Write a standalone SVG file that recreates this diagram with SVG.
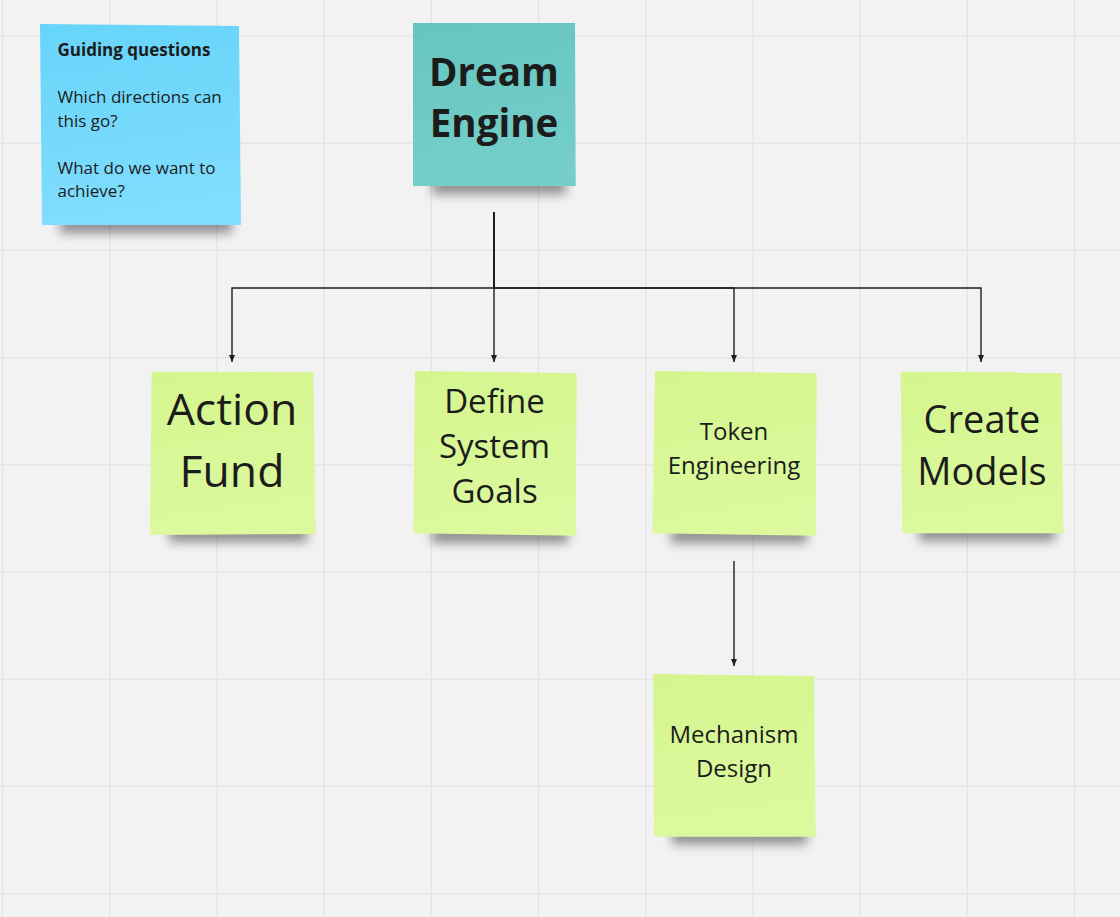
<svg xmlns="http://www.w3.org/2000/svg" width="1120" height="917" viewBox="0 0 1120 917">
<defs>
<style>
.grid line{stroke:#e3e3e3;stroke-width:1.2}
.t{font-family:"Open Sans","Noto Sans","Liberation Sans",sans-serif;fill:#1c1c1c;text-anchor:middle}
.b{font-weight:bold}
.l{text-anchor:start}
.conn path{fill:none;stroke:#1e1e1e;stroke-width:1.4}
.sh{fill:#000;opacity:0.42;filter:url(#blur)}
</style>
<filter id="blur" x="-30%" y="-150%" width="160%" height="400%"><feGaussianBlur stdDeviation="5.5"/></filter>
<linearGradient id="gGreen" x1="0" y1="0" x2="0.15" y2="1"><stop offset="0" stop-color="#d4f58e"/><stop offset="1" stop-color="#dcf99e"/></linearGradient>
<linearGradient id="gBlue" x1="0" y1="0" x2="0.15" y2="1"><stop offset="0" stop-color="#66d4f9"/><stop offset="1" stop-color="#80ddfd"/></linearGradient>
<linearGradient id="gTeal" x1="0" y1="0" x2="0.15" y2="1"><stop offset="0" stop-color="#67c5bf"/><stop offset="1" stop-color="#75cec9"/></linearGradient>
<marker id="arr" markerUnits="userSpaceOnUse" markerWidth="8" markerHeight="8" refX="7" refY="4" orient="auto"><path d="M0,1 L7,4 L0,7 Z" fill="#1e1e1e"/></marker>
</defs>
<rect width="1120" height="917" fill="#f2f2f2"/>
<g class="grid">
<line x1="2.5" y1="0" x2="2.5" y2="917"/><line x1="109.7" y1="0" x2="109.7" y2="917"/><line x1="216.9" y1="0" x2="216.9" y2="917"/><line x1="324.1" y1="0" x2="324.1" y2="917"/><line x1="431.3" y1="0" x2="431.3" y2="917"/><line x1="538.5" y1="0" x2="538.5" y2="917"/><line x1="645.7" y1="0" x2="645.7" y2="917"/><line x1="752.9" y1="0" x2="752.9" y2="917"/><line x1="860.1" y1="0" x2="860.1" y2="917"/><line x1="967.3" y1="0" x2="967.3" y2="917"/><line x1="1074.5" y1="0" x2="1074.5" y2="917"/>
<line x1="0" y1="36" x2="1120" y2="36"/><line x1="0" y1="143.2" x2="1120" y2="143.2"/><line x1="0" y1="250.4" x2="1120" y2="250.4"/><line x1="0" y1="357.6" x2="1120" y2="357.6"/><line x1="0" y1="464.8" x2="1120" y2="464.8"/><line x1="0" y1="572" x2="1120" y2="572"/><line x1="0" y1="679.2" x2="1120" y2="679.2"/><line x1="0" y1="786.4" x2="1120" y2="786.4"/><line x1="0" y1="893.6" x2="1120" y2="893.6"/>
</g>
<g class="conn" id="connectors">
<path d="M494,212 V288 H232 V362" marker-end="url(#arr)"/>
<path d="M494,212 V362" marker-end="url(#arr)"/>
<path d="M494,212 V288 H734 V362" marker-end="url(#arr)"/>
<path d="M494,212 V288 H981 V362" marker-end="url(#arr)"/>
<path d="M734,561 V666" marker-end="url(#arr)"/>
</g>
<g id="guiding">
<rect class="sh" x="60" y="217" width="172" height="16"/>
<polygon points="40,24 239,26 241,225 42,225" fill="url(#gBlue)"/>
<text class="t b l" x="57.5" y="56" font-size="17">Guiding questions</text>
<text class="t l" x="57.5" y="103.3" font-size="17">Which directions can</text>
<text class="t l" x="57.5" y="126.7" font-size="17">this go?</text>
<text class="t l" x="57.5" y="174" font-size="17">What do we want to</text>
<text class="t l" x="57.5" y="197.3" font-size="17">achieve?</text>
</g>
<g id="dream">
<rect class="sh" x="432" y="178" width="134" height="16"/>
<polygon points="413,23 575,23 575.7,186 413,186" fill="url(#gTeal)"/>
<text class="t b" x="494" y="86" font-size="38.5">Dream</text>
<text class="t b" x="494" y="137" font-size="38.5">Engine</text>
</g>
<g id="action">
<rect class="sh" x="169" y="526" width="138" height="16"/>
<polygon points="151.7,371.7 313.3,372.3 315.7,534 150,535" fill="url(#gGreen)"/>
<text class="t" x="232" y="425" font-size="44.5">Action</text>
<text class="t" x="232" y="486.5" font-size="44.5">Fund</text>
</g>
<g id="define">
<rect class="sh" x="432" y="527" width="136" height="16"/>
<polygon points="415,371 576.7,373.3 575.7,535.7 413.3,533.3" fill="url(#gGreen)"/>
<text class="t" x="494.5" y="413.3" font-size="33">Define</text>
<text class="t" x="494.5" y="458" font-size="33">System</text>
<text class="t" x="494.5" y="502.7" font-size="33">Goals</text>
</g>
<g id="token">
<rect class="sh" x="671" y="527" width="136" height="16"/>
<polygon points="655,371 816.7,373.3 815.7,535.7 652.3,533.3" fill="url(#gGreen)"/>
<text class="t" x="734" y="440" font-size="24">Token</text>
<text class="t" x="734" y="473.5" font-size="24">Engineering</text>
</g>
<g id="create">
<rect class="sh" x="919" y="525" width="136" height="16"/>
<polygon points="900.7,371.7 1061.7,372.3 1063.3,533.3 902.3,533.3" fill="url(#gGreen)"/>
<text class="t" x="982" y="433.3" font-size="38">Create</text>
<text class="t" x="982" y="485.3" font-size="38">Models</text>
</g>
<g id="mechanism">
<rect class="sh" x="672" y="828" width="135" height="16"/>
<polygon points="653.3,674 814,676 815.7,836.7 654,836.7" fill="url(#gGreen)"/>
<text class="t" x="734" y="742.7" font-size="24">Mechanism</text>
<text class="t" x="734" y="776.7" font-size="24">Design</text>
</g>
</svg>
